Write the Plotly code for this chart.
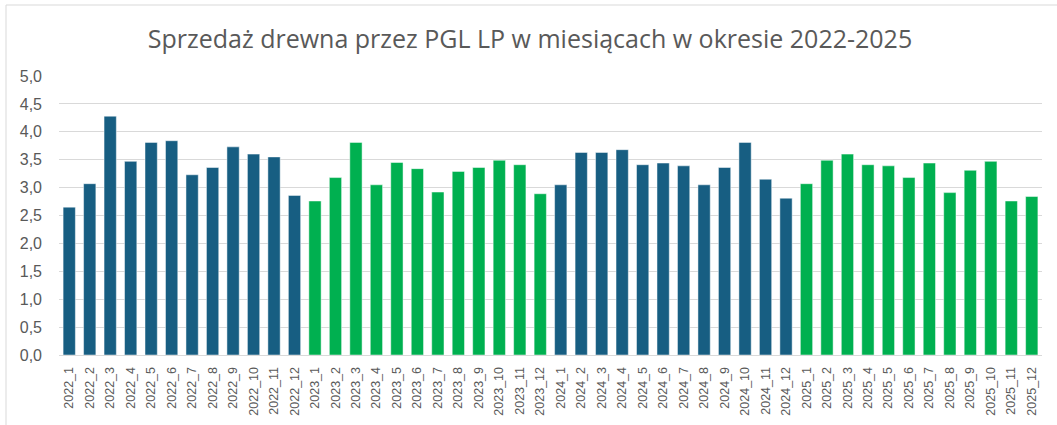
import plotly.graph_objects as go

title_text = "Sprzedaż drewna przez PGL LP w miesiącach w okresie 2022-2025"

months = [
    "2022_1", "2022_2", "2022_3", "2022_4", "2022_5", "2022_6",
    "2022_7", "2022_8", "2022_9", "2022_10", "2022_11", "2022_12",
    "2023_1", "2023_2", "2023_3", "2023_4", "2023_5", "2023_6",
    "2023_7", "2023_8", "2023_9", "2023_10", "2023_11", "2023_12",
    "2024_1", "2024_2", "2024_3", "2024_4", "2024_5", "2024_6",
    "2024_7", "2024_8", "2024_9", "2024_10", "2024_11", "2024_12",
    "2025_1", "2025_2", "2025_3", "2025_4", "2025_5", "2025_6",
    "2025_7", "2025_8", "2025_9", "2025_10", "2025_11", "2025_12",
]

sales = [
    2.65, 3.07, 4.28, 3.47, 3.81, 3.84, 3.23, 3.36, 3.73, 3.60, 3.55, 2.86,
    2.76, 3.18, 3.81, 3.05, 3.45, 3.34, 2.92, 3.29, 3.36, 3.49, 3.41, 2.89,
    3.05, 3.63, 3.63, 3.68, 3.41, 3.44, 3.39, 3.05, 3.36, 3.81, 3.15, 2.81,
    3.07, 3.49, 3.60, 3.41, 3.39, 3.18, 3.44, 2.91, 3.31, 3.47, 2.76, 2.84,
]

y_ticks = [0, 0.5, 1.0, 1.5, 2.0, 2.5, 3.0, 3.5, 4.0, 4.5, 5.0]

BLUE = "#175E82"
GREEN = "#00B050"
year_colors = {"2022": BLUE, "2023": GREEN, "2024": BLUE, "2025": GREEN}
bar_colors = [year_colors[m.split("_")[0]] for m in months]

fig = go.Figure(
    go.Bar(
        x=months,
        y=sales,
        marker=dict(color=bar_colors, line=dict(color="rgba(255,255,255,0.6)", width=0.8)),
        hoverinfo="x+y",
    )
)

W, H = 1057, 425
L, R, T, B = 59, 15, 76, 70
pw = W - L - R
ph = H - T - B

fig.update_layout(
    width=W,
    height=H,
    margin=dict(l=L, r=R, t=T, b=B, autoexpand=False),
    paper_bgcolor="white",
    plot_bgcolor="white",
    separators=", ",
    bargap=0.4,
    showlegend=False,
    font=dict(family="Liberation Sans, Arial, sans-serif", color="#595959"),
    title=dict(
        text=title_text,
        x=530 / W,
        xref="container",
        xanchor="center",
        y=1 - 39 / H,
        yref="container",
        yanchor="middle",
        automargin=False,
        font=dict(family="Open Sans, sans-serif", size=25, color="#595959"),
    ),
    xaxis=dict(
        type="category",
        automargin=False,
        tickangle=-90,
        tickfont=dict(size=12.5, color="#595959"),
        showgrid=False,
        showline=True,
        linecolor="#D9D9D9",
        linewidth=1,
        ticks="",
        ticklabelstandoff=6,
    ),
    yaxis=dict(
        range=[0, 5],
        automargin=False,
        tickvals=y_ticks,
        tickformat=".1f",
        tickfont=dict(size=16, color="#595959"),
        showgrid=True,
        gridcolor="#D9D9D9",
        gridwidth=1,
        zeroline=False,
        showline=False,
        ticks="",
        ticklabelstandoff=16,
        fixedrange=True,
    ),
    shapes=[
        dict(type="line", xref="paper", yref="paper",
             x0=(6 - L) / pw, x1=(W + 5 - L) / pw,
             y0=(H - B - 5) / ph, y1=(H - B - 5) / ph,
             line=dict(color="#D9D9D9", width=1)),
        dict(type="line", xref="paper", yref="paper",
             x0=(6 - L) / pw, x1=(6 - L) / pw,
             y0=(H - B - 5) / ph, y1=(H - B - H - 10) / ph,
             line=dict(color="#D9D9D9", width=1)),
    ],
)

fig.write_html(
    "out.html",
    config={"displayModeBar": False},
    post_script="document.body.style.margin='0';document.body.style.overflow='hidden';",
)
